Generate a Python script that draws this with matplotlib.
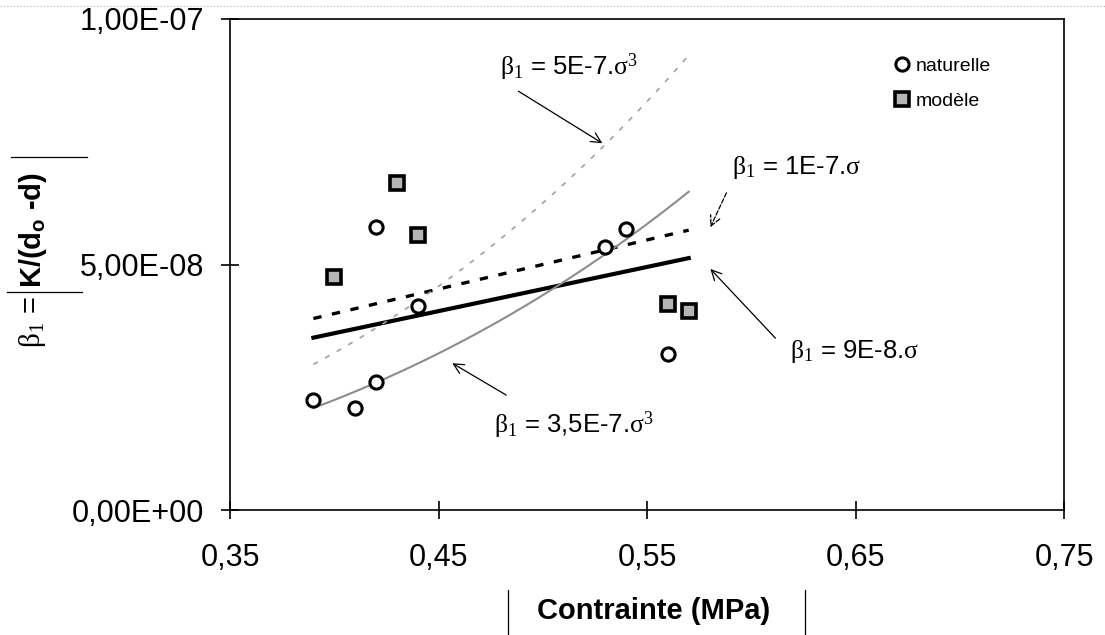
import numpy as np
import matplotlib
matplotlib.use("Agg")
from matplotlib import pyplot as plt
from matplotlib.lines import Line2D

plt.rcParams['font.family'] = ['Liberation Sans', 'DejaVu Sans']
plt.rcParams['mathtext.fontset'] = 'custom'
plt.rcParams['mathtext.rm'] = 'Liberation Serif'
plt.rcParams['mathtext.it'] = 'Liberation Serif:italic'
plt.rcParams['mathtext.bf'] = 'Liberation Sans:bold'

sigma_nat = [0.39, 0.41, 0.42, 0.42, 0.44, 0.53, 0.54, 0.56]
beta_nat = [2.24e-8, 2.08e-8, 2.6e-8, 5.77e-8, 4.15e-8, 5.35e-8, 5.72e-8, 3.18e-8]
sigma_mod = [0.40, 0.43, 0.44, 0.56, 0.57]
beta_mod = [4.75e-8, 6.65e-8, 5.6e-8, 4.2e-8, 4.05e-8]

# trend lines as written on the figure: beta1 = coef * sigma**power
trend_coefs = [9e-8, 1e-7, 5e-7, 3.5e-7]
trend_powers = [1, 1, 3, 3]
trend_labels = [r"$\mathrm{\beta}_1$ = 9E-8.$\mathrm{\sigma}$",
                r"$\mathrm{\beta}_1$ = 1E-7.$\mathrm{\sigma}$",
                r"$\mathrm{\beta}_1$ = 5E-7.$\mathrm{\sigma}^3$",
                r"$\mathrm{\beta}_1$ = 3,5E-7.$\mathrm{\sigma}^3$"]
sigma_min, sigma_max = 0.39, 0.57

xticks = [0.35, 0.45, 0.55, 0.65, 0.75]
xticklabels = ["0,35", "0,45", "0,55", "0,65", "0,75"]
yticks = [0.0, 5e-8, 1e-7]
yticklabels = ["0,00E+00", "5,00E-08", "1,00E-07"]

fig = plt.figure(figsize=(11.05, 6.35), dpi=100)
ax = fig.add_axes([230 / 1105, 1 - 510 / 635, (1064 - 230) / 1105, (510 - 19) / 635])

sig = np.linspace(sigma_min, sigma_max, 200)
styles = [dict(color='black', lw=3.0, ls='-'),
          dict(color='black', lw=2.4, ls=(0, (2.5, 3.2))),
          dict(color='#a0a0a0', lw=1.2, ls=(0, (3, 5))),
          dict(color='#8c8c8c', lw=1.5, ls='-')]
for c, p, st in zip(trend_coefs, trend_powers, styles):
    ax.plot(sig, c * sig ** p, zorder=2, **st)

ax.plot(sigma_nat, beta_nat, 'o', ms=9.5, mfc='white', mec='black', mew=2.2,
        label='naturelle', zorder=3)
ax.plot(sigma_mod, beta_mod, 's', ms=10, mfc='#b4b4b4', mec='black', mew=2.6,
        label='modèle', zorder=3)

ax.set_xlim(0.35, 0.75)
ax.set_ylim(0, 1e-7)
ax.set_xticks(xticks)
ax.set_xticklabels(xticklabels)
ax.set_yticks(yticks)
ax.set_yticklabels(yticklabels)
ax.tick_params(direction='inout', length=13, width=1.2, labelsize=22)
ax.tick_params(axis='x', pad=17)
ax.tick_params(axis='y', pad=12)
for s in ax.spines.values():
    s.set_linewidth(1.2)

# annotations: (text centre, arrow start, arrow tip)
notes = [((0.6496, 32.2e-9), (0.6116, 35.0e-9), (0.5804, 49.1e-9), '-'),
         ((0.6217, 69.7e-9), (0.5881, 64.6e-9), (0.5804, 57.6e-9), '--'),
         ((0.5128, 90.2e-9), (0.4883, 85.3e-9), (0.5286, 74.7e-9), '-'),
         ((0.5147, 17.3e-9), (0.4825, 23.4e-9), (0.4566, 29.9e-9), '-')]
for lab, (txt, start, tip, ls) in zip(trend_labels, notes):
    ax.text(txt[0], txt[1], lab, fontsize=18.5, ha='center', va='center')
    ax.annotate('', xy=tip, xytext=start,
                arrowprops=dict(arrowstyle='->', lw=0.9, color='black', ls=ls,
                                mutation_scale=18, shrinkA=0, shrinkB=0))

ax.legend(loc='upper left', bbox_to_anchor=(894 / 1105, 1 - 57 / 635),
          bbox_transform=fig.transFigure, frameon=False, fontsize=14,
          handlelength=0.8, handletextpad=0.3, labelspacing=0.9,
          borderpad=0, borderaxespad=0, numpoints=1)

fig.text(654 / 1105, 1 - 611 / 635, "Contrainte (MPa)", fontsize=21,
         fontweight='bold', ha='center', va='center')
fig.text(33 / 1105, 1 - 296 / 635, r"$\mathrm{\beta}_1$ =",
         fontsize=21, rotation=90, ha='center', va='top')
fig.text(33 / 1105, 1 - 288 / 635, r"K/(d$_\mathbf{o}$ -d)",
         fontsize=21, fontweight='bold', rotation=90, ha='center', va='bottom')

# text box edges left over from the scan
W, H = 1105.0, 635.0
for (x0, y0, x1, y1) in [(508, 590, 508, 635), (805, 590, 805, 635),
                         (11, 157, 87, 157), (7, 292, 82, 292)]:
    fig.add_artist(Line2D([x0 / W, x1 / W], [1 - y0 / H, 1 - y1 / H],
                          transform=fig.transFigure, color='black', lw=0.9))
fig.add_artist(Line2D([0, 1], [1 - 6 / H, 1 - 6 / H], transform=fig.transFigure,
                      color='#b0b0b0', lw=0.8, ls=(0, (1, 2))))

fig.savefig("out.png", dpi=100)
